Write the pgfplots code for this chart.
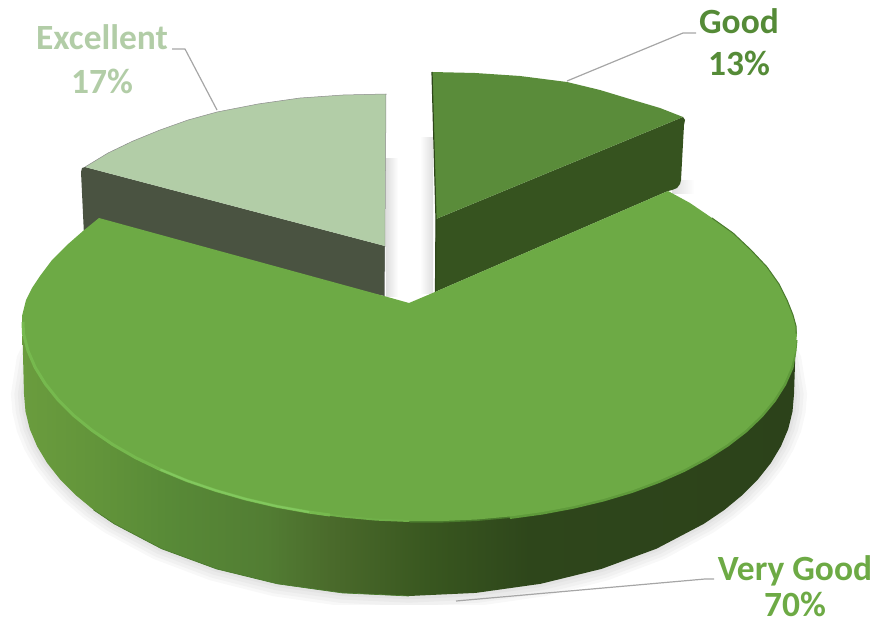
\documentclass[border=0pt]{standalone}
\usepackage{fontspec}
\setmainfont{Carlito}
\usepackage{pgfplots}
\usepackage{pgfplotstable}
\pgfplotsset{compat=1.18}
\definecolor{vgtop}{HTML}{6DAA45}
\definecolor{goodtop}{HTML}{5A8C3A}
\definecolor{goodside}{HTML}{36531F}
\definecolor{exctop}{HTML}{B2CDA7}
\definecolor{excside}{HTML}{4A5341}
\definecolor{leader}{HTML}{A6A6A6}
\definecolor{goodtext}{HTML}{558B37}
\definecolor{rimlight}{HTML}{76B94E}
\definecolor{rimfade}{HTML}{70B049}
\definecolor{rimbright}{HTML}{82C85E}
\definecolor{rimsoft}{HTML}{5F9A3B}
\definecolor{rimsofter}{HTML}{4A7A2D}
\definecolor{rimdark}{HTML}{4A7A2D}
\definecolor{wallA}{HTML}{6A9C3E}
\definecolor{wallB}{HTML}{62943A}
\definecolor{wallC}{HTML}{588A37}
\definecolor{wallD}{HTML}{527D33}
\definecolor{wallE}{HTML}{4A6A2B}
\definecolor{wallF}{HTML}{38561F}
\definecolor{wallG}{HTML}{2E461B}
\definecolor{wallH}{HTML}{2C421A}
% side wall of the large slice, dark towards the right
\pgfdeclarehorizontalshading{wall}{100bp}{
  color(0bp)=(wallA);
  color(25bp)=(wallA);
  color(30bp)=(wallB);
  color(34.4bp)=(wallC);
  color(40.8bp)=(wallD);
  color(45bp)=(wallE);
  color(51.5bp)=(wallF);
  color(57.8bp)=(wallG);
  color(75bp)=(wallH);
  color(100bp)=(wallH)}
\newcommand{\labelfont}{\fontsize{35.6}{40}\selectfont\bfseries}
% base outline of the large slice, scaled outwards for its soft shadow
\pgfplotstableread{
x y
75.6 293
47.2 324.9
29.8 358.9
24 394
25.5 411.6
29.8 429.1
37.1 446.3
47.2 463.1
60.1 479.4
75.6 495
93.6 509.9
114.1 523.8
161.5 548.7
216.5 568.9
277.3 583.8
342.2 592.9
409 596
475.8 592.9
540.7 583.8
601.5 568.9
656.5 548.7
703.9 523.8
724.4 509.9
742.4 495
757.9 479.4
770.8 463.1
780.9 446.3
788.2 429.1
792.5 411.6
794 394
788.2 358.9
770.8 324.9
742.4 293
409 345
}\outline
\begin{document}
\begin{tikzpicture}
\useasboundingbox (0,0) rectangle (893bp,625bp);
\begin{axis}[
  at={(0,0)}, anchor=south west,
  scale only axis, width=893bp, height=625bp,
  xmin=0, xmax=893, ymin=0, ymax=625,
  y dir=reverse, hide axis,
  /tikz/line join=round]

% soft shadow below the large slice
\addplot[fill={rgb,255:red,248;green,248;blue,248}, draw=none] table[x expr={409+(\thisrow{x}-409)*1.034}, y expr={394+(\thisrow{y}-394)*1.065}] {\outline} --cycle;
\addplot[fill={rgb,255:red,241;green,241;blue,241}, draw=none] table[x expr={409+(\thisrow{x}-409)*1.025}, y expr={394+(\thisrow{y}-394)*1.05}] {\outline} --cycle;
\addplot[fill={rgb,255:red,234;green,234;blue,234}, draw=none] table[x expr={409+(\thisrow{x}-409)*1.016}, y expr={394+(\thisrow{y}-394)*1.033}] {\outline} --cycle;
\addplot[fill={rgb,255:red,227;green,227;blue,227}, draw=none] table[x expr={409+(\thisrow{x}-409)*1.008}, y expr={394+(\thisrow{y}-394)*1.016}] {\outline} --cycle;
\addplot[fill=white, draw=none] coordinates {(250,605) (650,605) (650,625) (250,625)} --cycle;

% shadows thrown into the gap between the slices
\addplot[draw=none, left color=black!13, right color=white] coordinates {(386,158) (398,158) (398,296) (386,296)} --cycle;
\addplot[draw=none, left color=white, right color=black!13] coordinates {(420,137) (433,137) (433,293) (420,293)} --cycle;
\addplot[draw=none, left color=black!13, right color=white] coordinates {(672,180) (694,180) (694,193) (672,193)} --cycle;

% Excellent slice
\addplot[fill=excside, draw=none] coordinates {(85,167) (82,168) (81,172) (84,235) (384.5,296) (385,246)} --cycle;
\addplot[fill=exctop, draw=none] coordinates {(85,167) (108,153) (133,141) (160,130) (188,120) (217,112) (258,104) (300,98) (343,95) (386,94) (385,246)} --cycle;
\addplot[draw=black!45, line width=0.5bp] coordinates {(85,167) (108,153) (133,141) (160,130) (188,120) (217,112) (258,104) (300,98) (343,95) (386,94) (385,246) (384.5,296)};

% Good slice
\addplot[fill=goodside, draw=none] coordinates {(683,117) (685,120) (684,125) (681,180) (680,184) (677,188) (672,190) (668,191) (435,292) (436,219)} --cycle;
\addplot[fill=goodtop, draw=none] coordinates {(432,72) (475,73) (520,76) (567,82) (600,90) (633,100) (660,108) (683,117) (436,219)} --cycle;
\addplot[draw=goodside!85!black, line width=1.2bp] coordinates {(432,72) (436,219) (435.5,292)};

% Very Good slice: wall, then top face
\addplot[shading=wall, draw=none] coordinates {
  (22,316) (780,316) (796,334) (794,394) (792.5,411.6) (788.2,429.1) (780.9,446.3) (770.8,463.1) (757.9,479.4) (742.4,495) (724.4,509.9) (703.9,523.8)
  (656.5,548.7) (601.5,568.9) (540.7,583.8) (475.8,592.9) (409,596) (342.2,592.9) (277.3,583.8) (216.5,568.9) (161.5,548.7)
  (114.1,523.8) (93.6,509.9) (75.6,495) (60.1,479.4) (47.2,463.1) (37.1,446.3) (29.8,429.1) (25.5,411.6) (24,394)} --cycle;
\addplot[draw=rimdark, line width=0.7bp] coordinates {
  (93.6,509.9) (114.1,523.8) (161.5,548.7) (216.5,568.9) (277.3,583.8) (342.2,592.9) (409,596)};

% soft inner edge of the bevel, under the top face
\addplot[draw=rimsofter, line width=3bp] coordinates {
  (409.5,521) (443.3,521) (476.8,519.5) (509.8,516.5)};
\addplot[draw=rimsoft, line width=5bp] coordinates {
  (509.8,516.5) (542,512.1) (573.3,506.2) (603.3,499) (631.8,490.5) (658.6,480.6) (683.5,469.6)
  (706.3,457.5) (726.9,444.4) (745.1,430.4) (760.7,415.5) (773.6,400) (783.8,383.9) (791.1,367.4) (794,350.6) (795,340)};
\addplot[fill=vgtop, draw=none] coordinates {
  (409,303) (384,296) (99,218) (83,231) (67,245) (52,260) (40,276) (32,288) (26,300) (22,316)
  (23.5,333.6) (27.9,350.6) (35.2,367.5) (45.4,384) (58.3,400.1) (73.9,415.6) (92.1,430.4) (112.7,444.5) (135.5,457.6) (160.4,469.6)
  (187.2,480.7) (215.7,490.4) (245.7,499) (277,506.3) (309.2,512.1) (342.2,516.5) (375.7,519.6) (409.5,521)
  (443.3,521) (476.8,519.5) (509.8,516.5) (542,512.1) (573.3,506.2) (603.3,499) (631.8,490.5) (658.6,480.6) (683.5,469.6)
  (706.3,457.5) (726.9,444.4) (745.1,430.4) (760.7,415.5) (773.6,400) (783.8,383.9) (791.1,367.4) (795.5,350.6) (797,333.5)
  (796,326) (793,315) (787,300) (779,284) (767,267) (751,250) (733,233) (712,218) (690,203) (668,191) (435,292)} --cycle;

% bevel along the rim: highlight on the left, dark edge on the right
\addplot[draw=rimfade, line width=2bp] coordinates {
  (309.2,512.1) (342.2,516.5) (375.7,519.6) (409.5,521)};
\addplot[draw=rimlight, line width=3bp] coordinates {
  (23,322) (23.5,333.6) (27.9,350.6) (35.2,367.5) (45.4,384) (58.3,400.1) (73.9,415.6) (92.1,430.4) (112.7,444.5) (135.5,457.6) (160.4,469.6)
  (187.2,480.7) (215.7,490.4) (245.7,499) (277,506.3) (309.2,512.1) (330,515)};
\addplot[draw=rimbright, line width=2bp] coordinates {
  (160.4,469.6) (187.2,480.7) (215.7,490.4) (245.7,499) (277,506.3) (309.2,512.1)};
\addplot[draw=rimdark, line width=1bp] coordinates {
  (796,333.5) (796,326) (793,315) (787,300) (779,284) (767,267) (751,250) (733,233) (712,218)};

% leader lines
\addplot[draw=leader, line width=1.2bp] coordinates {(172,49) (185,49) (217,110)};
\addplot[draw=leader, line width=1.2bp] coordinates {(567,81) (683,33) (696,33)};
\addplot[draw=leader, line width=1.2bp] coordinates {(456,601) (705,579) (714,579)};

% slice labels
\node[anchor=base, text=exctop, inner sep=0pt, font=\labelfont] at (axis cs:102,50) {Excellent};
\node[anchor=base, text=exctop, inner sep=0pt, font=\labelfont] at (axis cs:102,93) {17\%};
\node[anchor=base, text=goodtext, inner sep=0pt, font=\labelfont] at (axis cs:739,34) {Good};
\node[anchor=base, text=goodtext, inner sep=0pt, font=\labelfont] at (axis cs:739,76) {13\%};
\node[anchor=base, text=vgtop, inner sep=0pt, font=\labelfont] at (axis cs:795,580) {Very Good};
\node[anchor=base, text=vgtop, inner sep=0pt, font=\labelfont] at (axis cs:795,616) {70\%};
\end{axis}
\end{tikzpicture}
\end{document}
